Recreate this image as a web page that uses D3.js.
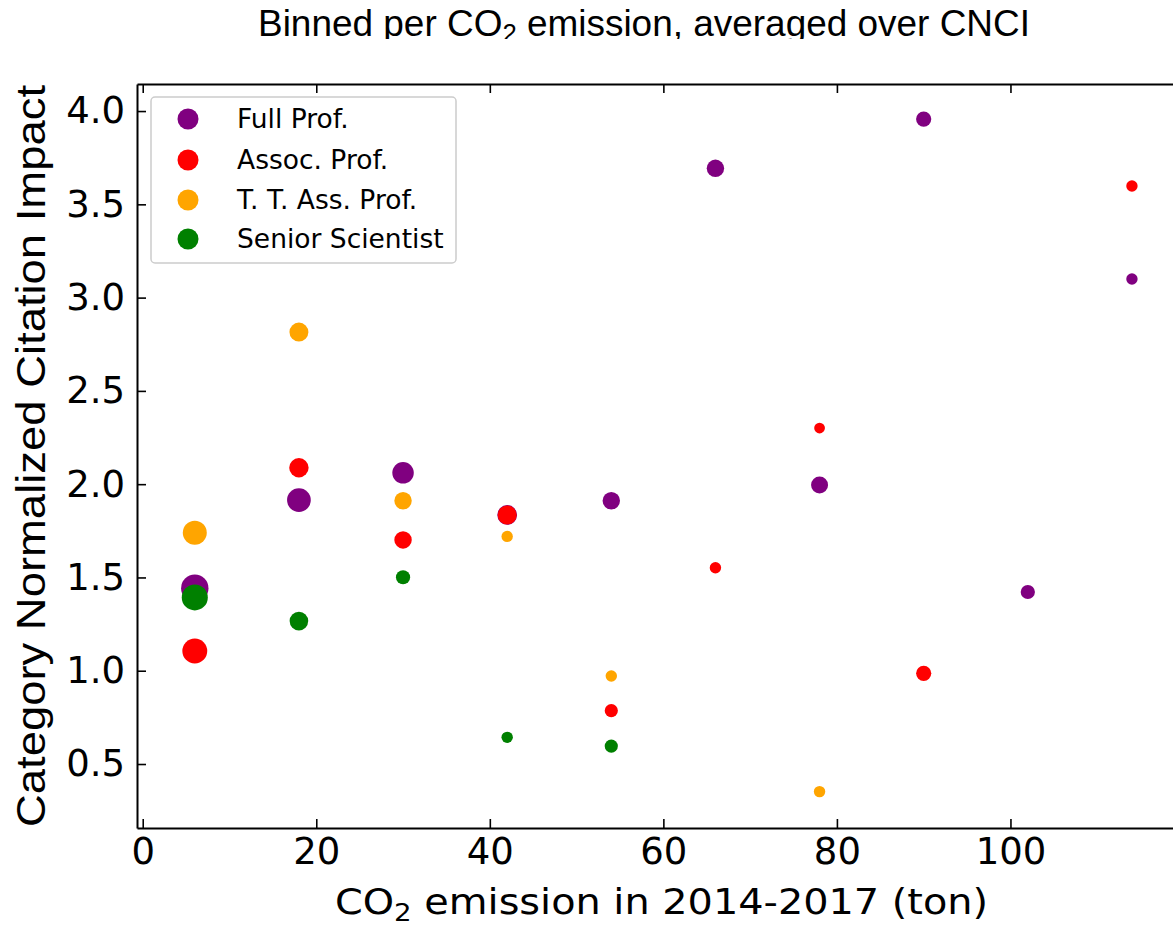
<!DOCTYPE html>
<html>
<head>
<meta charset="utf-8">
<script src="https://cdn.jsdelivr.net/npm/d3@7"></script>
<style>
  html, body { margin: 0; padding: 0; background: #fff; }
  svg { display: block; }
</style>
</head>
<body>
<script>
// Bin centres of CO2 emission (ton), 12-ton bins
const binCenters = [6, 18, 30, 42, 54, 66, 78, 90, 102, 114];

// Mean CNCI per bin for each position (null = empty bin)
const fullProf   = [1.442, 1.915, 2.061, 1.835, 1.911, 3.693, 1.995, 3.957, 1.422, 3.100];
const assocProf  = [1.106, 2.088, 1.701, 1.835, 0.786, 1.552, 2.301, 0.986, null, 3.598];
const ttAssProf  = [1.740, 2.815, 1.911, 1.720, 0.972, null, 0.352, null, null, null];
const seniorSci  = [1.393, 1.266, 1.501, 0.643, 0.596, null, null, null, null, null];

// Number of people in each bin (marker area)
const fullProfN  = [52, 39, 32, 27, 21, 21, 20, 16, 14, 9];
const assocProfN = [43, 26, 21, 25, 12, 9, 8, 16, 0, 9];
const ttAssProfN = [40, 25, 21, 9, 9, 0, 9, 0, 0, 0];
const seniorSciN = [47, 24, 14, 9, 12, 0, 0, 0, 0, 0];

const seriesNames  = ["Full Prof.", "Assoc. Prof.", "T. T. Ass. Prof.", "Senior Scientist"];
const seriesColors = ["#800080", "#ff0000", "#ffa500", "#008000"];
const seriesValues = [fullProf, assocProf, ttAssProf, seniorSci];
const seriesCounts = [fullProfN, assocProfN, ttAssProfN, seniorSciN];

const xTicks = [0, 20, 40, 60, 80, 100];
const yTicks = [0.5, 1.0, 1.5, 2.0, 2.5, 3.0, 3.5, 4.0];

const W = 1173, H = 926;
const plotLeft = 137, plotRight = 1184, plotTop = 84, plotBottom = 828;

const svg = d3.select("body").append("svg")
  .attr("width", W).attr("height", H)
  .attr("viewBox", `0 0 ${W} ${H}`);

const x = d3.scaleLinear().domain([-0.66, 120]).range([plotLeft, plotRight]);
const y = d3.scaleLinear().domain([0.157, 4.145]).range([plotBottom, plotTop]);
const r = d3.scaleSqrt().domain([0, 100]).range([0, 19]);

// Title (clipped at the bottom edge)
const defs = svg.append("defs");
defs.append("clipPath").attr("id", "titleClip")
  .append("rect").attr("x", 0).attr("y", 0).attr("width", W).attr("height", 39);

const title = svg.append("text")
  .attr("clip-path", "url(#titleClip)")
  .attr("x", 258).attr("y", 36)
  .attr("font-family", "'Liberation Sans', Arial, sans-serif")
  .attr("font-size", 36)
  .attr("fill", "#000")
  .attr("textLength", 772).attr("lengthAdjust", "spacingAndGlyphs");
title.append("tspan").text("Binned per CO");
title.append("tspan").attr("font-size", 25).attr("dy", 6).text("2");
title.append("tspan").attr("dy", -6).text(" emission, averaged over CNCI");

// Points
const plot = svg.append("g");
seriesValues.forEach((vals, si) => {
  const pts = binCenters.map((b, i) => ({ b, v: vals[i], n: seriesCounts[si][i] }))
    .filter(d => d.v !== null);
  plot.selectAll(null).data(pts).enter().append("circle")
    .attr("cx", d => x(d.b))
    .attr("cy", d => y(d.v))
    .attr("r", d => r(d.n))
    .attr("fill", seriesColors[si]);
});

// Axes with inward ticks
const fontTick = "'DejaVu Sans', sans-serif";
const gx = svg.append("g").attr("transform", `translate(0,${plotBottom})`)
  .call(d3.axisBottom(x).tickValues(xTicks).tickSize(-9).tickSizeOuter(0).tickPadding(10));
const gxTop = svg.append("g").attr("transform", `translate(0,${plotTop})`)
  .call(d3.axisTop(x).tickValues(xTicks).tickSize(-9).tickSizeOuter(0).tickFormat(""));
const gy = svg.append("g").attr("transform", `translate(${plotLeft},0)`)
  .call(d3.axisLeft(y).tickValues(yTicks).tickSize(-9).tickSizeOuter(0).tickPadding(12)
    .tickFormat(d3.format(".1f")));
const gyRight = svg.append("g").attr("transform", `translate(${plotRight},0)`)
  .call(d3.axisRight(y).tickValues(yTicks).tickSize(-9).tickSizeOuter(0).tickFormat(""));

[gx, gxTop, gy, gyRight].forEach(g => {
  g.select(".domain").attr("stroke", "#000").attr("stroke-width", 2);
  g.selectAll(".tick line").attr("stroke", "#000").attr("stroke-width", 1.6);
  g.selectAll(".tick text").attr("font-family", fontTick).attr("font-size", 37).attr("fill", "#000");
});

// Axis labels
const xl = svg.append("text")
  .attr("x", 335).attr("y", 914)
  .attr("font-family", fontTick).attr("font-size", 36).attr("fill", "#000")
  .attr("textLength", 653).attr("lengthAdjust", "spacingAndGlyphs");
xl.append("tspan").text("CO");
xl.append("tspan").attr("font-size", 25).attr("dy", 7).text("2");
xl.append("tspan").attr("dy", -7).text(" emission in 2014-2017 (ton)");

svg.append("text")
  .attr("transform", "translate(45,827) rotate(-90)")
  .attr("x", 0).attr("y", 0)
  .attr("font-family", "'Liberation Sans', Arial, sans-serif")
  .attr("font-size", 41).attr("fill", "#000")
  .attr("textLength", 742).attr("lengthAdjust", "spacingAndGlyphs")
  .text("Category Normalized Citation Impact");

// Legend
const lg = svg.append("g");
lg.append("rect")
  .attr("x", 151).attr("y", 97).attr("width", 305).attr("height", 166)
  .attr("rx", 4).attr("ry", 4)
  .attr("fill", "#fff").attr("fill-opacity", 0.8)
  .attr("stroke", "#cccccc").attr("stroke-width", 1.5);
const legendRows = [119, 160, 200, 239];
seriesNames.forEach((name, i) => {
  lg.append("circle").attr("cx", 188).attr("cy", legendRows[i]).attr("r", 10.5)
    .attr("fill", seriesColors[i]);
  lg.append("text").attr("x", 237).attr("y", legendRows[i] + 9)
    .attr("font-family", fontTick).attr("font-size", 26.5).attr("fill", "#000")
    .text(name);
});
</script>
</body>
</html>
